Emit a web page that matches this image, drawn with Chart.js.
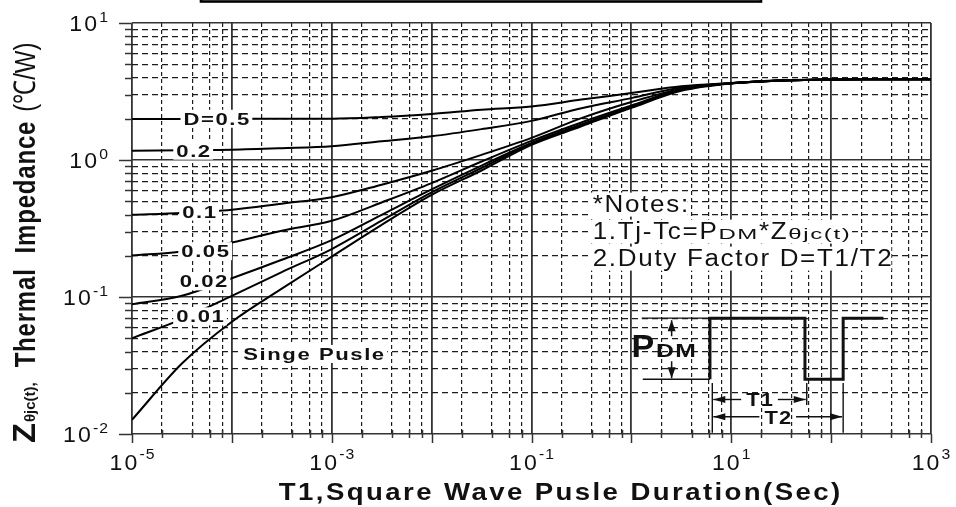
<!DOCTYPE html>
<html>
<head>
<meta charset="utf-8">
<script src="https://cdn.jsdelivr.net/npm/chart.js@4.4.1/dist/chart.umd.min.js"></script>
<style>
  html, body { margin: 0; padding: 0; background: #fff; }
</style>
</head>
<body>
<canvas id="graph" width="956" height="507"></canvas>
<script>
// pulse duration T1 in seconds (half decade steps)
const pulseTime = [1e-5, 3.16e-5, 1e-4, 3.16e-4, 1e-3, 3.16e-3, 1e-2, 3.16e-2, 0.1, 0.316, 1, 3.16, 10, 31.6, 100, 316, 1000];

// Zth(j-c) in C/W for each duty factor
const zD05 = [1.99, 1.99, 2.0, 2.0, 2.0, 2.06, 2.17, 2.33, 2.46, 2.76, 3.08, 3.45, 3.65, 3.82, 3.87, 3.88, 3.88];
const zD02 = [1.17, 1.18, 1.19, 1.22, 1.26, 1.37, 1.49, 1.68, 1.93, 2.39, 2.83, 3.38, 3.63, 3.8, 3.87, 3.88, 3.88];
const zD01 = [0.398, 0.41, 0.433, 0.48, 0.535, 0.66, 0.834, 1.09, 1.45, 2.02, 2.65, 3.3, 3.63, 3.8, 3.87, 3.88, 3.88];
const zD005 = [0.201, 0.215, 0.25, 0.305, 0.36, 0.49, 0.678, 0.975, 1.38, 1.88, 2.5, 3.28, 3.63, 3.8, 3.87, 3.88, 3.88];
const zD002 = [0.0885, 0.102, 0.137, 0.187, 0.26, 0.398, 0.61, 0.91, 1.33, 1.82, 2.45, 3.27, 3.63, 3.8, 3.87, 3.88, 3.88];
const zD001 = [0.05, 0.069, 0.102, 0.152, 0.224, 0.361, 0.58, 0.874, 1.31, 1.8, 2.42, 3.25, 3.63, 3.8, 3.87, 3.88, 3.88];
const zSingle = [0.0127, 0.0327, 0.066, 0.115, 0.197, 0.336, 0.556, 0.838, 1.29, 1.76, 2.4, 3.2, 3.62, 3.8, 3.87, 3.88, 3.88];

const curveNames = ["D=0.5", "0.2", "0.1", "0.05", "0.02", "0.01", "Singe Pusle"];
const curveValues = [zD05, zD02, zD01, zD005, zD002, zD001, zSingle];
// where each curve name sits (seconds, C/W)
const nameAtTime = [7.0e-5, 4.1e-5, 4.7e-5, 5.4e-5, 5.2e-5, 4.8e-5, 6.6e-4];
const nameAtZ = [2.0, 1.17, 0.42, 0.216, 0.13, 0.0722, 0.0384];

// tick labels (powers of ten)
const xLabelExps = [-5, -3, -1, 1, 3];
const yLabelExps = [-2, -1, 0, 1];
const xGridSteps = [1, 2, 4, 6, 8];
const yGridSteps = [1, 2, 3, 4, 5, 6, 7, 8, 9];

const notesLines = [
  [{ t: "*Notes:" }],
  [{ t: "1.Tj-Tc=P" }, { t: "DM", small: true }, { t: "*Z" }, { t: "θjc(t)", small: true }],
  [{ t: "2.Duty Factor D=T1/T2" }],
];

const SANS = '"Liberation Sans", Arial, sans-serif';
const INK = "#111";

function decadeTicks(minExp, maxExp, steps) {
  const out = [];
  for (let e = minExp; e < maxExp; e++) {
    steps.forEach((s) => out.push({ value: s * Math.pow(10, e), major: s === 1 }));
  }
  out.push({ value: Math.pow(10, maxExp), major: true });
  return out;
}

// text made of runs: {t, font, ls, sx, gap, dy}
function runsWidth(ctx, runs) {
  let w = 0;
  runs.forEach((r) => {
    ctx.font = r.font;
    ctx.letterSpacing = "0px";
    w += (r.gap || 0) + (ctx.measureText(r.t).width + (r.ls || 0) * r.t.length) * (r.sx || 1);
  });
  return w;
}
function drawRuns(ctx, x, y, runs) {
  ctx.textAlign = "left";
  ctx.textBaseline = "alphabetic";
  runs.forEach((r) => {
    x += r.gap || 0;
    ctx.font = r.font;
    ctx.letterSpacing = "0px";
    const w = (ctx.measureText(r.t).width + (r.ls || 0) * r.t.length) * (r.sx || 1);
    ctx.save();
    ctx.translate(x, y + (r.dy || 0));
    ctx.scale(r.sx || 1, 1);
    ctx.letterSpacing = (r.ls || 0) + "px";
    ctx.fillText(r.t, 0, 0);
    ctx.restore();
    x += w;
  });
  ctx.letterSpacing = "0px";
}
function powerRuns(exp, big, small, ls) {
  return [
    { t: "10", font: big + "px " + SANS, ls: ls, sx: 1.05 },
    { t: String(exp), font: small + "px " + SANS, ls: 1, sx: 1.05, dy: -Math.round(big * 0.5) },
  ];
}
function arrowHead(ctx, x, y, dx, dy, len, half) {
  ctx.beginPath();
  ctx.moveTo(x, y);
  ctx.lineTo(x - dx * len - dy * half, y - dy * len + dx * half);
  ctx.lineTo(x - dx * len + dy * half, y - dy * len - dx * half);
  ctx.closePath();
  ctx.fill();
}
function line(ctx, x1, y1, x2, y2) {
  ctx.beginPath();
  ctx.moveTo(x1, y1);
  ctx.lineTo(x2, y2);
  ctx.stroke();
}

const overlay = {
  id: "overlay",
  beforeDraw(chart) {
    const ctx = chart.ctx;
    ctx.save();
    ctx.fillStyle = "#fff";
    ctx.fillRect(0, 0, chart.width, chart.height);
    // frame of the (cut off) title box
    ctx.strokeStyle = "#000";
    ctx.lineWidth = 2.6;
    ctx.strokeRect(201, -10, 560, 11.5);
    ctx.restore();
  },
  afterDatasetsDraw(chart) {
    const ctx = chart.ctx;
    const xs = chart.scales.x;
    const ys = chart.scales.y;
    const px = (v) => xs.getPixelForValue(v);
    const py = (v) => ys.getPixelForValue(v);
    ctx.save();

    // curve names on white patches
    curveNames.forEach((name, i) => {
      const runs = [{ t: name, font: "bold 17px " + SANS, ls: 1.2, sx: 1.3 }];
      const w = runsWidth(ctx, runs) - 1.2 * 1.3;
      const cx = px(nameAtTime[i]);
      const cy = py(nameAtZ[i]);
      ctx.fillStyle = "#fff";
      ctx.fillRect(cx - w / 2 - 3, cy - 9, w + 6, 18);
      ctx.fillStyle = INK;
      drawRuns(ctx, cx - w / 2, cy + 6, runs);
    });

    // notes block
    const nx = px(0.41);
    let ny = py(0.42);
    notesLines.forEach((parts) => {
      const runs = parts.map((p) =>
        p.small
          ? { t: p.t, font: "15px " + SANS, ls: 1, sx: 1.6 }
          : { t: p.t, font: "23px " + SANS, ls: 1.5, sx: 1.13 }
      );
      const w = runsWidth(ctx, runs);
      ctx.fillStyle = "#fff";
      ctx.fillRect(nx - 2, ny - 19, w, 24);
      ctx.fillStyle = INK;
      drawRuns(ctx, nx, ny, runs);
      ny += 27;
    });

    // P_DM waveform inset
    const hi = py(0.07), lo = py(0.0251);
    const rise1 = px(6.12), fall1 = px(54.7), rise2 = px(132), tail = px(334);
    ctx.strokeStyle = INK;
    ctx.fillStyle = INK;
    ctx.lineWidth = 1.3;
    line(ctx, px(1.27), hi, rise1, hi);
    line(ctx, px(1.3), lo, rise1, lo);
    ctx.lineWidth = 3;
    ctx.beginPath();
    ctx.moveTo(rise1, lo);
    ctx.lineTo(rise1, hi);
    ctx.lineTo(fall1, hi);
    ctx.lineTo(fall1, lo);
    ctx.lineTo(rise2, lo);
    ctx.lineTo(rise2, hi);
    ctx.lineTo(tail, hi);
    ctx.stroke();

    // amplitude arrow
    const ax = px(2.53);
    ctx.lineWidth = 1.5;
    line(ctx, ax, hi + 2, ax, hi + 18);
    line(ctx, ax, lo - 18, ax, lo - 1);
    arrowHead(ctx, ax, hi + 2, 0, -1, 11, 4);
    arrowHead(ctx, ax, lo - 1, 0, 1, 11, 4);
    drawRuns(ctx, px(1.0), py(0.0365), [
      { t: "P", font: "bold 31px " + SANS, sx: 1.1 },
      { t: "DM", font: "bold 19px " + SANS, ls: 1, sx: 1.3, gap: 2 },
    ]);

    // T1 / T2 markers
    const mTop = py(0.0236), mBot = py(0.0102);
    const b0 = px(6.46), b1 = px(57), b2 = px(132);
    ctx.lineWidth = 1.4;
    line(ctx, b0, mTop, b0, mBot);
    line(ctx, b1, mTop, b1, py(0.0163));
    line(ctx, b2, mTop, b2, mBot);
    [[b1, py(0.01786), "T1"], [b2, py(0.01336), "T2"]].forEach(([bEnd, ry, label]) => {
      const runs = [{ t: label, font: "bold 19px " + SANS, ls: 1, sx: 1.15 }];
      const w = runsWidth(ctx, runs) - 1.15;
      const cx = (b0 + bEnd) / 2;
      ctx.lineWidth = 1.4;
      line(ctx, b0 + 1, ry, cx - w / 2 - 5, ry);
      line(ctx, cx + w / 2 + 5, ry, bEnd - 1, ry);
      arrowHead(ctx, b0 + 1, ry, -1, 0, 12, 3.5);
      arrowHead(ctx, bEnd - 1, ry, 1, 0, 12, 3.5);
      drawRuns(ctx, cx - w / 2, ry + 7, runs);
    });
    ctx.restore();
  },
  afterDraw(chart) {
    const ctx = chart.ctx;
    const area = chart.chartArea;
    const xs = chart.scales.x;
    const ys = chart.scales.y;
    ctx.save();
    ctx.strokeStyle = "#333";
    ctx.lineWidth = 1.5;
    // tick marks outside the plot
    xs.ticks.forEach((t) => {
      const x = Math.round(xs.getPixelForValue(t.value)) + 0.5;
      line(ctx, x, area.bottom - (t.major ? 0 : 4), x, area.bottom + (t.major ? 9 : 4));
    });
    ys.ticks.forEach((t) => {
      const y = Math.round(ys.getPixelForValue(t.value)) + 0.5;
      line(ctx, area.left - (t.major ? 13 : 7), y, area.left, y);
    });

    ctx.fillStyle = INK;
    xLabelExps.forEach((e) => {
      const runs = powerRuns(e, 22, 15, 2);
      const w = runsWidth(ctx, runs) - 1;
      drawRuns(ctx, xs.getPixelForValue(Math.pow(10, e)) - w / 2, area.bottom + 36, runs);
    });
    yLabelExps.forEach((e) => {
      const runs = powerRuns(e, 22, 15, 2);
      runs[1].dy = -9;
      const w = runsWidth(ctx, runs) - 1;
      drawRuns(ctx, area.left - 24 - w, ys.getPixelForValue(Math.pow(10, e)) + 8, runs);
    });

    // x axis title
    const xTitle = [{ t: "T1,Square Wave Pusle Duration(Sec)", font: "bold 23px " + SANS, ls: 2, sx: 1.2 }];
    const xw = runsWidth(ctx, xTitle) - 2.4;
    drawRuns(ctx, (area.left + area.right) / 2 + 28 - xw / 2, area.bottom + 66, xTitle);

    // y axis title, rotated
    ctx.save();
    ctx.translate(35, area.bottom + 9);
    ctx.rotate(-Math.PI / 2);
    drawRuns(ctx, 0, 0, [
      { t: "Z", font: "bold 31px " + SANS, sx: 1.05 },
      { t: "θjc(t),", font: "bold 15px " + SANS, gap: 1 },
      { t: "Thermal", font: "bold 30px " + SANS, ls: 1, sx: 0.8, gap: 15 },
      { t: "Impedance", font: "bold 30px " + SANS, ls: 1, sx: 0.8, gap: 15 },
      { t: "(℃/W)", font: "30px " + SANS, sx: 0.8, gap: 9 },
    ]);
    ctx.restore();
    ctx.restore();
  },
};

window.zthChart = new Chart(document.getElementById("graph").getContext("2d"), {
  type: "line",
  data: {
    labels: pulseTime,
    datasets: curveValues.map((vals, i) => ({
      label: curveNames[i],
      data: pulseTime.map((t, k) => ({ x: t, y: vals[k] })),
      borderColor: "#000",
      borderWidth: 2,
      pointRadius: 0,
      fill: false,
      cubicInterpolationMode: "monotone",
    })),
  },
  options: {
    responsive: false,
    animation: false,
    devicePixelRatio: 1,
    layout: { padding: { left: 132, right: 25, top: 23, bottom: 73 } },
    plugins: { legend: { display: false }, tooltip: { enabled: false } },
    scales: {
      x: {
        type: "logarithmic",
        min: 1e-5,
        max: 1e3,
        afterBuildTicks: (scale) => { scale.ticks = decadeTicks(-5, 3, xGridSteps); },
        ticks: { display: false },
        grid: {
          drawTicks: false,
          color: (c) => (c.tick && c.tick.major ? "#333" : "#1c1c1c"),
          lineWidth: (c) => (c.tick && c.tick.major ? 1.8 : 1.2),
        },
        border: { display: false, dash: (c) => (c.tick && !c.tick.major ? [4, 3] : []) },
      },
      y: {
        type: "logarithmic",
        min: 1e-2,
        max: 10,
        afterBuildTicks: (scale) => { scale.ticks = decadeTicks(-2, 1, yGridSteps); },
        ticks: { display: false },
        grid: {
          drawTicks: false,
          color: (c) => (c.tick && c.tick.major ? "#333" : "#1c1c1c"),
          lineWidth: (c) => (c.tick && c.tick.major ? 1.5 : 1.2),
        },
        border: { display: false, dash: (c) => (c.tick && !c.tick.major ? [6, 4] : []) },
      },
    },
  },
  plugins: [overlay],
});
</script>
</body>
</html>
